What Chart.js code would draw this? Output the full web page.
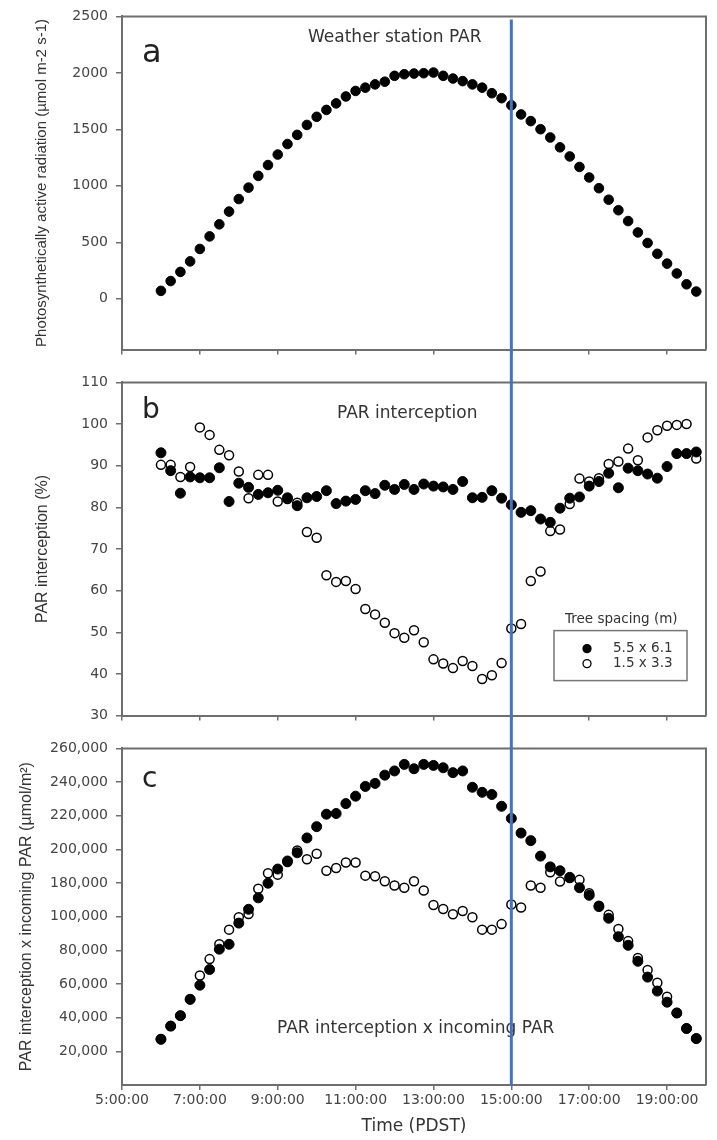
<!DOCTYPE html>
<html lang="en">
<head>
<meta charset="UTF-8">
<title>PAR interception</title>
<script src="https://cdn.jsdelivr.net/npm/chart.js@4.4.1/dist/chart.umd.min.js"></script>
<style>
  body { margin: 0; background: #fff; }
  #wrap { position: relative; width: 717px; height: 1140px; }
  canvas { position: absolute; left: 0; }
</style>
</head>
<body>
<div id="wrap">
  <canvas id="chartA" width="717" height="366" style="top:0"></canvas>
  <canvas id="chartB" width="717" height="366" style="top:366px"></canvas>
  <canvas id="chartC" width="717" height="408" style="top:732px"></canvas>
</div>
<script>
// sampling times (PDST), one every 15 min
const times = [
  '6:00:00', '6:15:00', '6:30:00', '6:45:00', '7:00:00', '7:15:00', '7:30:00', '7:45:00',
  '8:00:00', '8:15:00', '8:30:00', '8:45:00', '9:00:00', '9:15:00', '9:30:00', '9:45:00',
  '10:00:00', '10:15:00', '10:30:00', '10:45:00', '11:00:00', '11:15:00', '11:30:00', '11:45:00',
  '12:00:00', '12:15:00', '12:30:00', '12:45:00', '13:00:00', '13:15:00', '13:30:00', '13:45:00',
  '14:00:00', '14:15:00', '14:30:00', '14:45:00', '15:00:00', '15:15:00', '15:30:00', '15:45:00',
  '16:00:00', '16:15:00', '16:30:00', '16:45:00', '17:00:00', '17:15:00', '17:30:00', '17:45:00',
  '18:00:00', '18:15:00', '18:30:00', '18:45:00', '19:00:00', '19:15:00', '19:30:00', '19:45:00'
];

// a: weather station PAR (umol m-2 s-1)
const stationPar = [
  70, 157, 238, 331, 441, 552, 659, 772, 883, 984, 1088, 1184, 1277, 1370,
  1451, 1539, 1611, 1672, 1730, 1791, 1840, 1869, 1898, 1922, 1974, 1988, 1994, 1997,
  2003, 1974, 1950, 1927, 1898, 1869, 1820, 1776, 1713, 1632, 1573, 1501, 1428, 1341,
  1260, 1167, 1074, 979, 877, 784, 688, 587, 494, 398, 311, 224, 128, 64
];

// b: PAR interception (%)
const interceptWide = [
  93.1, 88.8, 83.4, 87.3, 87.1, 87.1, 89.5, 81.4, 85.8, 84.8, 83.1, 83.5, 84.1, 82.3,
  80.4, 82.3, 82.6, 84.0, 80.9, 81.5, 81.9, 84.0, 83.3, 85.3, 84.3, 85.5, 84.3, 85.6,
  85.1, 84.9, 84.3, 86.2, 82.3, 82.4, 84.0, 82.2, 80.6, 78.8, 79.2, 77.2, 76.4, 79.8,
  82.2, 82.5, 85.1, 86.2, 88.2, 84.7, 89.4, 88.8, 88.0, 87.0, 89.8, 92.9, 92.9, 93.3
];
const interceptDense = [
  90.2, 90.2, 87.3, 89.7, 99.2, 97.4, 93.8, 92.5, 88.6, 82.2, 87.8, 87.8, 81.4, 82.0,
  81.1, 74.1, 72.7, 63.7, 62.1, 62.3, 60.4, 55.6, 54.3, 52.3, 49.8, 48.7, 50.5, 47.6,
  43.5, 42.5, 41.4, 43.1, 41.9, 38.8, 39.7, 42.6, 50.9, 52.0, 62.3, 64.6, 74.3, 74.7,
  80.8, 86.9, 86.2, 87.0, 90.4, 91.0, 94.1, 91.3, 96.8, 98.5, 99.6, 99.8, 100.0, 91.7
];

// c: PAR interception x incoming PAR, in units of the drawn axis
const productWide = [
  87200, 95000, 101200, 110900, 119300, 128600, 140700, 143600, 156200, 164400, 171200, 179900, 188300, 193100,
  198000, 206800, 213500, 220900, 221300, 227200, 231600, 237400, 239200, 244100, 246600, 250500, 247900, 250500,
  249900, 248500, 245600, 246600, 236900, 233900, 232600, 225600, 218400, 209700, 205200, 196000, 189600, 187300,
  183400, 177200, 172700, 166000, 159100, 148100, 143000, 133500, 124100, 115800, 109200, 102800, 93600, 87600
];
const productDense = [
  87200, 95000, 101200, 110900, 125100, 134800, 143600, 152300, 159700, 161600, 176600, 185800, 185000, 192500,
  199400, 194100, 197400, 187300, 188900, 192200, 192200, 184400, 184000, 181100, 178500, 177200, 181100, 175600,
  166900, 164600, 161500, 163400, 159700, 152300, 152300, 155600, 167300, 165500, 178500, 177200, 186400, 180900,
  183000, 181900, 174000, 166500, 161100, 152700, 145500, 135500, 128400, 120800, 112500, 102800, 93600, 87600
];

const spacingLabels = ['5.5 x 6.1', '1.5 x 3.3'];

// axis ticks
const xTicks = ['5:00:00', '7:00:00', '9:00:00', '11:00:00', '13:00:00', '15:00:00', '17:00:00', '19:00:00'];
const aTicks = [0, 500, 1000, 1500, 2000, 2500];
const bTicks = [30, 40, 50, 60, 70, 80, 90, 100, 110];
const cTicks = [80000, 100000, 120000, 140000, 160000, 180000, 200000, 220000, 240000, 260000];
const cTickLabels = ['20,000', '40,000', '60,000', '80,000', '100,000', '180,000', '200,000', '220,000', '240,000', '260,000'];

const markerTime = '15:00:00';

function toHours(t) {
  const p = t.split(':').map(Number);
  return p[0] + p[1] / 60 + p[2] / 3600;
}
function pts(values) {
  return values.map((v, i) => ({ x: toHours(times[i]), y: v }));
}

const axisColor = '#6e6e6e';
const textColor = '#333';
const tickFont = { family: 'DejaVu Sans', size: 14 };

// box top/right, panel letter and caption, legend
const frame = {
  id: 'frame',
  afterDraw(chart, args, o) {
    const { ctx, chartArea: a } = chart;
    ctx.save();
    ctx.strokeStyle = axisColor;
    ctx.lineWidth = 2;
    ctx.beginPath();
    ctx.moveTo(a.left, a.top);
    ctx.lineTo(a.right, a.top);
    ctx.lineTo(a.right, a.bottom);
    ctx.stroke();

    ctx.fillStyle = '#222';
    ctx.textBaseline = 'alphabetic';
    ctx.textAlign = 'left';
    ctx.font = o.letterSize + 'px "DejaVu Sans"';
    ctx.fillText(o.letter, a.left + 20, a.top + o.letterY);
    ctx.fillStyle = textColor;
    ctx.font = '17px "DejaVu Sans"';
    ctx.fillText(o.note, a.left + o.noteX, a.top + o.noteY);

    if (o.legend) {
      const bx = a.right - 152, by = a.bottom - 85, bw = 133, bh = 50;
      ctx.font = '13.5px "DejaVu Sans"';
      ctx.fillText('Tree spacing (m)', bx + 11, by - 8);
      ctx.strokeStyle = '#777';
      ctx.lineWidth = 1.5;
      ctx.strokeRect(bx, by, bw, bh);
      ctx.textBaseline = 'middle';
      chart.data.datasets.forEach((ds, i) => {
        const y = by + 18 + i * 15;
        ctx.beginPath();
        ctx.arc(bx + 33, y, 4, 0, Math.PI * 2);
        ctx.fillStyle = ds.backgroundColor;
        ctx.fill();
        ctx.lineWidth = 1.3;
        ctx.strokeStyle = '#000';
        ctx.stroke();
        ctx.fillStyle = textColor;
        ctx.fillText(ds.label, bx + 59, y);
      });
    }
    ctx.restore();
  }
};

// vertical blue line at the marked time, running through all three panels
const marker = {
  id: 'marker',
  afterDraw(chart, args, o) {
    const { ctx, chartArea: a } = chart;
    const x = chart.scales.x.getPixelForValue(toHours(markerTime));
    ctx.save();
    ctx.strokeStyle = '#4472C4';
    ctx.lineWidth = 3;
    ctx.beginPath();
    ctx.moveTo(x, o.first ? a.top + 3 : 0);
    ctx.lineTo(x, o.last ? a.bottom : chart.height);
    ctx.stroke();
    ctx.restore();
  }
};

function xAxis(last) {
  return {
    type: 'linear', min: 5, max: 20,
    afterBuildTicks: s => { s.ticks = xTicks.map(t => ({ value: toHours(t) })); },
    afterFit: s => { s.height = last ? 55 : 13; },
    grid: { drawOnChartArea: false, tickLength: 5, color: axisColor, lineWidth: 1.5 },
    border: { color: axisColor, width: 2 },
    ticks: { display: last, callback: (v, i) => xTicks[i], font: tickFont, color: '#444', padding: 2, maxRotation: 0, autoSkip: false },
    title: { display: last, text: 'Time (PDST)', font: { family: 'DejaVu Sans', size: 17 }, color: textColor, padding: { top: 0, bottom: 3 } }
  };
}

function yAxis(min, max, ticks, labels, title, titleSize, titleCenter) {
  return {
    type: 'linear', min: min, max: max,
    afterBuildTicks: s => { s.ticks = ticks.map(v => ({ value: v })); },
    afterFit: s => { s.width = 122; },
    grid: { drawOnChartArea: false, tickLength: 6, color: axisColor, lineWidth: 1.5 },
    border: { color: axisColor, width: 2 },
    ticks: { callback: (v, i) => labels ? labels[i] : String(v), font: tickFont, color: '#444', padding: 8 },
    title: {
      display: true, text: title, color: textColor,
      font: { family: 'Liberation Sans', size: titleSize },
      padding: { top: titleCenter - titleSize * 0.6, bottom: 0 }
    }
  };
}

function options(padTop, last, x, y, frameOpts, markerOpts) {
  return {
    responsive: false, animation: false, devicePixelRatio: 1,
    layout: { padding: { top: padTop, right: 11, bottom: 0, left: 0 } },
    plugins: { legend: { display: false }, tooltip: { enabled: false }, frame: frameOpts, marker: markerOpts },
    scales: { x: x, y: y }
  };
}

const filledStyle = { backgroundColor: '#000', borderColor: '#000', borderWidth: 1, pointRadius: 5, pointHoverRadius: 5 };
const openStyle = { backgroundColor: '#fff', borderColor: '#000', borderWidth: 1.5, pointRadius: 4.5, pointHoverRadius: 4.5 };

new Chart(document.getElementById('chartA'), {
  type: 'scatter',
  data: { datasets: [Object.assign({ label: 'Weather station PAR', data: pts(stationPar) }, filledStyle, { pointRadius: 4.8 })] },
  options: options(14, false, xAxis(false),
    yAxis(-450, 2500, aTicks, null, 'Photosynthetically active radiation (µmol m-2 s-1)', 15, 42),
    { letter: 'a', letterSize: 32, letterY: 46, note: 'Weather station PAR', noteX: 186, noteY: 26 },
    { first: true, last: false }),
  plugins: [frame, marker]
});

new Chart(document.getElementById('chartB'), {
  type: 'scatter',
  data: {
    datasets: [
      Object.assign({ label: spacingLabels[0], data: pts(interceptWide) }, filledStyle),
      Object.assign({ label: spacingLabels[1], data: pts(interceptDense) }, openStyle)
    ]
  },
  options: options(13, false, xAxis(false),
    yAxis(30, 110, bTicks, null, 'PAR interception (%)', 16, 43),
    { letter: 'b', letterSize: 28, letterY: 36, note: 'PAR interception', noteX: 215, noteY: 36, legend: true },
    { first: false, last: false }),
  plugins: [frame, marker]
});

new Chart(document.getElementById('chartC'), {
  type: 'scatter',
  data: {
    datasets: [
      Object.assign({ label: spacingLabels[0], data: pts(productWide) }, filledStyle),
      Object.assign({ label: spacingLabels[1], data: pts(productDense) }, openStyle)
    ]
  },
  options: options(10, true, xAxis(true),
    yAxis(60000, 260000, cTicks, cTickLabels, 'PAR interception x incoming PAR (µmol/m²)', 16, 27),
    { letter: 'c', letterSize: 28, letterY: 39, note: 'PAR interception x incoming PAR', noteX: 155, noteY: 285 },
    { first: false, last: true }),
  plugins: [frame, marker]
});
</script>
</body>
</html>
